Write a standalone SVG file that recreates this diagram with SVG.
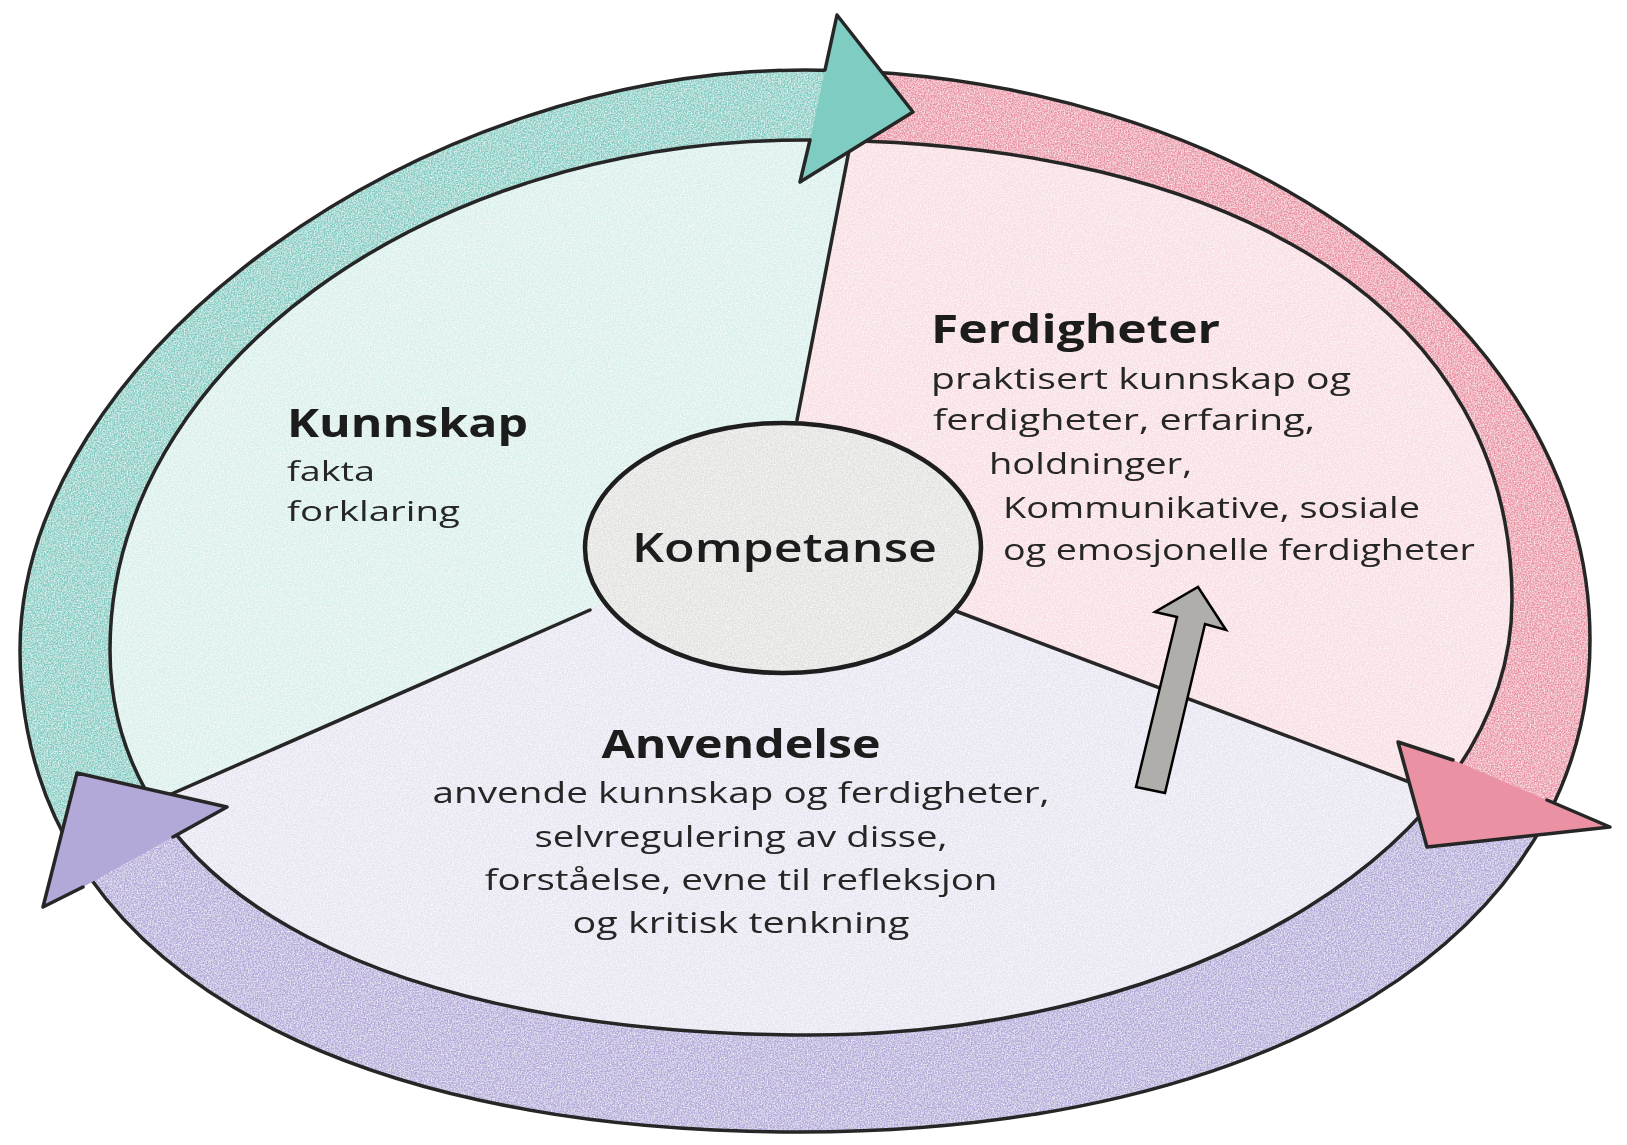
<svg xmlns="http://www.w3.org/2000/svg" width="1627" height="1145" viewBox="0 0 1627 1145">
<style>
.ln{fill:none;stroke:#262626;stroke-width:3.5;stroke-linejoin:round;stroke-linecap:round}
.hd{stroke:none}
.tt{font-family:"Open Sans","Noto Sans",sans-serif;font-weight:700;font-size:40px;fill:#1c1c1c}
.tx{font-family:"Open Sans","Noto Sans",sans-serif;font-size:29px;fill:#262626}
.ts{font-family:"Open Sans","Noto Sans",sans-serif;font-size:28px;fill:#262626}
</style>
<defs>
<path id="O" d="M805,70 C1237,70 1590,326 1590,640 C1590,935 1274,1132 800,1132 C330,1132 20,960 20,650 C20,360 412,70 805,70 Z"/>
<path id="I" d="M805,140 C1243,140 1512,315 1512,600 C1512,840 1200,1035 810,1035 C400,1035 110,900 110,650 C110,370 423,140 805,140 Z"/>
<clipPath id="wTeal"><polygon points="803,600 870,-20 -700,-20 -700,1150"/></clipPath>
<clipPath id="wPink"><polygon points="803,600 870,-20 2300,-20 2300,1019"/></clipPath>
<clipPath id="wPurple"><polygon points="803,600 2300,1019 2300,2000 -700,2000 -700,1150"/></clipPath>
<clipPath id="pie"><use href="#I"/></clipPath>
<filter id="grain" x="0" y="0" width="1627" height="1145" filterUnits="userSpaceOnUse">
<feTurbulence type="fractalNoise" baseFrequency="0.7" numOctaves="2" seed="4" result="n"/>
<feColorMatrix in="n" type="matrix" values="0 0 0 0 1 0 0 0 0 1 0 0 0 0 1 0 0 0 -1.6 1.05" result="w"/>
<feComposite in="w" in2="SourceGraphic" operator="in" result="wm"/>
<feMerge><feMergeNode in="SourceGraphic"/><feMergeNode in="wm"/></feMerge>
</filter>
</defs>
<rect width="1627" height="1145" fill="#ffffff"/>

<g id="ring" filter="url(#grain)">
<use href="#O" fill="#7fccc2" clip-path="url(#wTeal)"/>
<use href="#O" fill="#ea92a4" clip-path="url(#wPink)"/>
<use href="#O" fill="#b3a9d9" clip-path="url(#wPurple)"/>
</g>

<g id="node-kunnskap">
<polygon points="777,524 797,418 847,157 877,0 0,0 0,869 187,787 590,610" fill="#d8efeb" clip-path="url(#pie)" filter="url(#grain)"/>
<text class="tt" x="287" y="437" textLength="241" lengthAdjust="spacingAndGlyphs">Kunnskap</text>
<text class="ts" x="287" y="481" textLength="88" lengthAdjust="spacingAndGlyphs">fakta</text>
<text class="ts" x="287" y="521" textLength="173" lengthAdjust="spacingAndGlyphs">forklaring</text>
</g>

<g id="node-ferdigheter">
<polygon points="777,524 797,418 847,157 877,0 1627,0 1627,865 1395,777 953,610 790,548" fill="#f8dde2" clip-path="url(#pie)" filter="url(#grain)"/>
<text class="tt" x="931" y="343" textLength="289" lengthAdjust="spacingAndGlyphs">Ferdigheter</text>
<text class="tx" x="931" y="389" textLength="420" lengthAdjust="spacingAndGlyphs">praktisert kunnskap og</text>
<text class="tx" x="933" y="430" textLength="382" lengthAdjust="spacingAndGlyphs">ferdigheter, erfaring,</text>
<text class="tx" x="989" y="474" textLength="203" lengthAdjust="spacingAndGlyphs">holdninger,</text>
<text class="tx" x="1003" y="518" textLength="417" lengthAdjust="spacingAndGlyphs">Kommunikative, sosiale</text>
<text class="tx" x="1003" y="560" textLength="472" lengthAdjust="spacingAndGlyphs">og emosjonelle ferdigheter</text>
</g>

<g id="node-anvendelse">
<polygon points="777,524 590,610 187,787 0,869 0,1145 1627,1145 1627,865 1395,777 953,610 790,548" fill="#e7e4f1" clip-path="url(#pie)" filter="url(#grain)"/>
<text class="tt" x="741" y="758" text-anchor="middle" textLength="279" lengthAdjust="spacingAndGlyphs">Anvendelse</text>
<text class="tx" x="741" y="803" text-anchor="middle" textLength="617" lengthAdjust="spacingAndGlyphs">anvende kunnskap og ferdigheter,</text>
<text class="tx" x="741" y="847" text-anchor="middle" textLength="413" lengthAdjust="spacingAndGlyphs">selvregulering av disse,</text>
<text class="tx" x="741" y="890" text-anchor="middle" textLength="513" lengthAdjust="spacingAndGlyphs">forståelse, evne til refleksjon</text>
<text class="tx" x="741" y="933" text-anchor="middle" textLength="337" lengthAdjust="spacingAndGlyphs">og kritisk tenkning</text>
</g>

<g id="outlines">
<use href="#O" class="ln"/>
<use href="#I" class="ln"/>
<line class="ln" x1="852" y1="135" x2="797" y2="420"/>
<line class="ln" x1="590" y1="610" x2="160" y2="799"/>
<line class="ln" x1="953" y1="610" x2="1420" y2="786"/>
</g>

<g id="connectors">
<g id="arrow-teal">
<polygon class="hd" points="825,70 837,15 913,112 800,182 810,140" fill="#7fccc2"/>
<polyline class="ln" points="825,70 837,15 913,112 800,182 810,140"/>
</g>
<g id="arrow-pink">
<polygon class="hd" points="1453,760 1398,742 1427,847 1610,827 1547,800" fill="#ea92a4"/>
<polyline class="ln" points="1453,760 1398,742 1427,847 1610,827 1547,800"/>
</g>
<g id="arrow-purple">
<polygon class="hd" points="173,837 227,807 77,773 43,907 83,887" fill="#b3a9d9"/>
<polyline class="ln" points="173,837 227,807 77,773 43,907 83,887"/>
</g>
<g id="arrow-gray">
<polygon points="1198,587 1226,630 1205,624 1165,793 1136,787 1177,617 1155,612" fill="#b0aeab" stroke="#000" stroke-width="2.5" stroke-linejoin="miter"/>
</g>
</g>

<g id="node-kompetanse">
<ellipse cx="783" cy="548" rx="198" ry="125" fill="#e1e1df" filter="url(#grain)"/>
<ellipse cx="783" cy="548" rx="198" ry="125" fill="none" stroke="#1e1e1e" stroke-width="4.5"/>
<text class="tt" x="632" y="562" textLength="305" lengthAdjust="spacingAndGlyphs" style="font-weight:600">Kompetanse</text>
</g>
</svg>
